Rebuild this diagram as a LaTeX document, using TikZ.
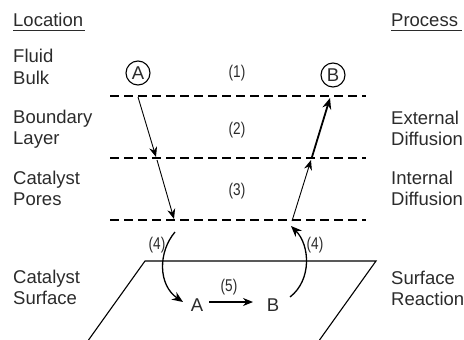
\documentclass[tikz,border=0pt]{standalone}
\usepackage{fontspec}
\setmainfont{Liberation Sans}
\newfontfamily\narrowf[FakeStretch=0.8]{Liberation Sans}
\usetikzlibrary{arrows.meta}
\definecolor{txt}{HTML}{2B2B2B}
\begin{document}
\begin{tikzpicture}[x=1pt,y=-1pt,
  lbl/.style={anchor=base west, align=left, inner sep=0pt, font=\fontsize{18.5}{21}\selectfont, text=txt},
  num/.style={inner sep=0pt, font=\narrowf\fontsize{17}{17}\selectfont, text=txt},
  dline/.style={dash pattern=on 9pt off 5pt, line width=1.4pt},
  thinarr/.style={line width=0.9pt, -{Stealth[length=10pt,width=8pt]}},
  thickarr/.style={line width=1.8pt, -{Stealth[length=11pt,width=9pt]}},
  curvarr/.style={line width=1.3pt, -{Stealth[length=11pt,width=9pt]}},
  circ/.style={circle, draw, line width=1.1pt, minimum size=24pt, inner sep=0pt, font=\fontsize{18.5}{21}\selectfont, text=txt},
  surf/.style={line width=1.1pt}
]
\useasboundingbox (0,0) rectangle (464,340);

% headings
\node[lbl] (loc) at (13,27) {Location};
\draw[txt, line width=0.8pt] (loc.base west) ++(0,3.5) -- ++(72,0);
\node[lbl] (proc) at (391,27) {Process};
\draw[txt, line width=0.8pt] (proc.base west) ++(0,3.5) -- ++(71,0);

% location labels (anchor at baseline of last line)
\node[lbl] (fb) at (13,84) {Fluid\\Bulk};
\node[lbl] (bl) at (13,144) {Boundary\\Layer};
\node[lbl] (cp) at (13,205) {Catalyst\\Pores};
\node[lbl] (cs) at (13,304) {Catalyst\\Surface};

% process labels
\node[lbl] (ed) at (391,145) {External\\Diffusion};
\node[lbl] (id) at (391,205) {Internal\\Diffusion};
\node[lbl] (sr) at (391,305) {Surface\\Reaction};

% dashed levels
\draw[dline] (110,96) -- (366,96);
\draw[dline] (110,158) -- (366,158);
\draw[dline] (110,220) -- (366,220);

% circles
\node[circ] (cA) at (138,73) {A};
\node[circ] (cB) at (333,75) {B};

% step numbers
\node[num] (n1) at (237,73) {(1)};
\node[num] (n2) at (237,130) {(2)};
\node[num] (n3) at (237,191) {(3)};
\node[num] (n4a) at (157,245) {(4)};
\node[num] (n4b) at (315,245) {(4)};
\node[num] (n5) at (229,287) {(5)};

% coordinates on levels
\coordinate (a1) at (138,97);
\coordinate (a2) at (156,157);
\coordinate (a3) at (157,160);
\coordinate (a4) at (174,219);
\coordinate (b1) at (292,221);
\coordinate (b2) at (311,160);
\coordinate (b3) at (312,157);
\coordinate (b4) at (330,98);

\draw[thinarr] (a1) -- (a2);
\draw[thinarr] (a3) -- (a4);
\draw[thinarr] (b1) -- (b2);
\draw[thickarr] (b3) -- (b4);

% catalyst surface
\draw[surf] (88.5,340) -- (145,261) -- (376,261) -- (319.5,340);

\node[inner sep=1pt, font=\fontsize{18.5}{21}\selectfont, text=txt] (sA) at (197,305) {A};
\node[inner sep=1pt, font=\fontsize{18.5}{21}\selectfont, text=txt] (sB) at (273,305) {B};
\draw[line width=1.1pt, -{Stealth[length=10pt,width=8pt]}] (sA.east) ++(5,-3) coordinate (r1) -- (253,302) coordinate (r2);

\coordinate (c1) at (175,232);
\coordinate (c2) at (183,302);
\coordinate (d1) at (290,297);
\coordinate (d2) at (291,226);
\draw[curvarr] (c1) .. controls (158,252) and (158,285) .. (c2);
\draw[curvarr] (d1) .. controls (312,280) and (310,245) .. (d2);
\end{tikzpicture}
\end{document}
